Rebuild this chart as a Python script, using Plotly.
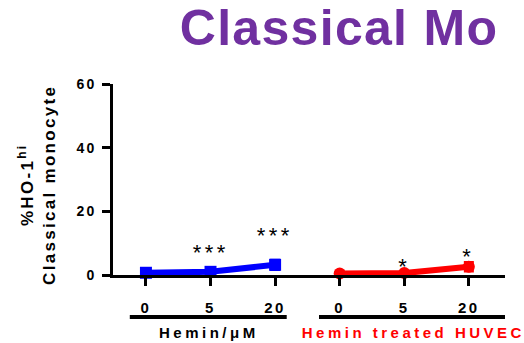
import plotly.graph_objects as go

# ---- data ----
tick_labels = ["0", "5", "20", "0", "5", "20"]
blue_x = [0, 1, 2]
blue_vals = [0.7, 1.0, 3.2]
blue_err = [0.3, 0.4, 1.3]
red_x = [3, 4, 5]
red_vals = [0.5, 0.6, 2.6]
red_err = [0.2, 0.2, 1.2]
sig_x = [1, 2, 4, 5]
sig_y = [7.2, 12.5, 2.6, 5.7]
sig_text = ["***", "***", "*", "*"]
y_ticks = [0, 20, 40, 60]

BLUE = "#0000FF"
RED = "#FF0000"
FONT = "Liberation Sans, Arial, sans-serif"

fig = go.Figure()
fig.add_trace(go.Scatter(
    x=blue_x, y=blue_vals, mode="lines+markers",
    line=dict(color=BLUE, width=6),
    marker=dict(symbol="square", size=12, color=BLUE),
    error_y=dict(type="data", array=blue_err, color=BLUE, thickness=4, width=5),
    cliponaxis=False, showlegend=False))
fig.add_trace(go.Scatter(
    x=red_x, y=red_vals, mode="lines+markers",
    line=dict(color=RED, width=6),
    marker=dict(symbol="circle", size=12, color=RED),
    error_y=dict(type="data", array=red_err, color=RED, thickness=4, width=5),
    cliponaxis=False, showlegend=False))

for sx, sy, st in zip(sig_x, sig_y, sig_text):
    fig.add_annotation(x=sx, y=sy, text=st, showarrow=False,
                       font=dict(family=FONT, size=22, color="black"),
                       xanchor="center", yanchor="middle")

# group underlines and labels
fig.add_shape(type="line", xref="x", yref="paper", x0=-0.25, x1=2.18, y0=-0.22, y1=-0.22,
              line=dict(color="black", width=4))
fig.add_shape(type="line", xref="x", yref="paper", x0=2.68, x1=5.57, y0=-0.22, y1=-0.22,
              line=dict(color="black", width=4))
fig.add_annotation(x=0.97, y=-0.30, xref="x", yref="paper", text="Hemin/μM", showarrow=False,
                   font=dict(family=FONT, size=15, color="black", weight="bold"),
                   xanchor="center", yanchor="middle")
fig.add_annotation(x=4.15, y=-0.30, xref="x", yref="paper", text="Hemin treated HUVEC",
                   showarrow=False,
                   font=dict(family=FONT, size=15, color=RED, weight="bold"),
                   xanchor="center", yanchor="middle")

# y-axis title (two lines, rotated)
fig.add_annotation(x=0, y=0.47, xref="paper", yref="paper", xshift=-76,
                   text="%HO-1<sup>hi</sup><br>Classical monocyte", showarrow=False,
                   textangle=-90, xanchor="center", yanchor="middle",
                   font=dict(family=FONT, size=17, color="black", weight="bold"))

fig.update_layout(
    width=524, height=343,
    margin=dict(l=113, r=19, t=84, b=68, autoexpand=False),
    paper_bgcolor="white", plot_bgcolor="white",
    title=dict(text="Classical Mo", x=0.647, xanchor="center", y=0.92, yanchor="middle",
               automargin=False,
               font=dict(family=FONT, size=50, color="#7030A0", weight="bold")),
    xaxis=dict(range=[-0.51, 5.56], tickvals=list(range(6)), ticktext=tick_labels,
               automargin=False,
               showline=True, linewidth=3, linecolor="black", showgrid=False, zeroline=False,
               ticks="outside", ticklen=8, tickwidth=3, tickcolor="black",
               ticklabelstandoff=9,
               tickfont=dict(family=FONT, size=15, color="black", weight="bold")),
    yaxis=dict(range=[0, 60], tickvals=y_ticks, automargin=False,
               showline=True, linewidth=3, linecolor="black", showgrid=False, zeroline=False,
               ticks="outside", ticklen=8, tickwidth=3, tickcolor="black",
               ticklabelstandoff=3,
               tickfont=dict(family=FONT, size=14, color="black", weight="bold")),
)

post = """
document.body.style.margin = '0';
document.body.style.padding = '0';
function ls(){
  var gd = document.querySelector('.js-plotly-plot');
  gd.querySelectorAll('.ytick text').forEach(function(e){e.style.letterSpacing='2px';});
  gd.querySelectorAll('.xtick text').forEach(function(e){e.style.letterSpacing='2.5px';});
  gd.querySelectorAll('.annotation-text').forEach(function(e){
    e.style.letterSpacing = (e.textContent.indexOf('Classical') >= 0) ? '2.3px' : '3.5px';
  });
  gd.querySelectorAll('.gtitle').forEach(function(e){e.style.letterSpacing='1.3px';});
}
ls();
var gd0 = document.querySelector('.js-plotly-plot');
if (gd0 && gd0.on) gd0.on('plotly_afterplot', ls);
"""
fig.write_html("out.html", post_script=post, config={"displayModeBar": False})
